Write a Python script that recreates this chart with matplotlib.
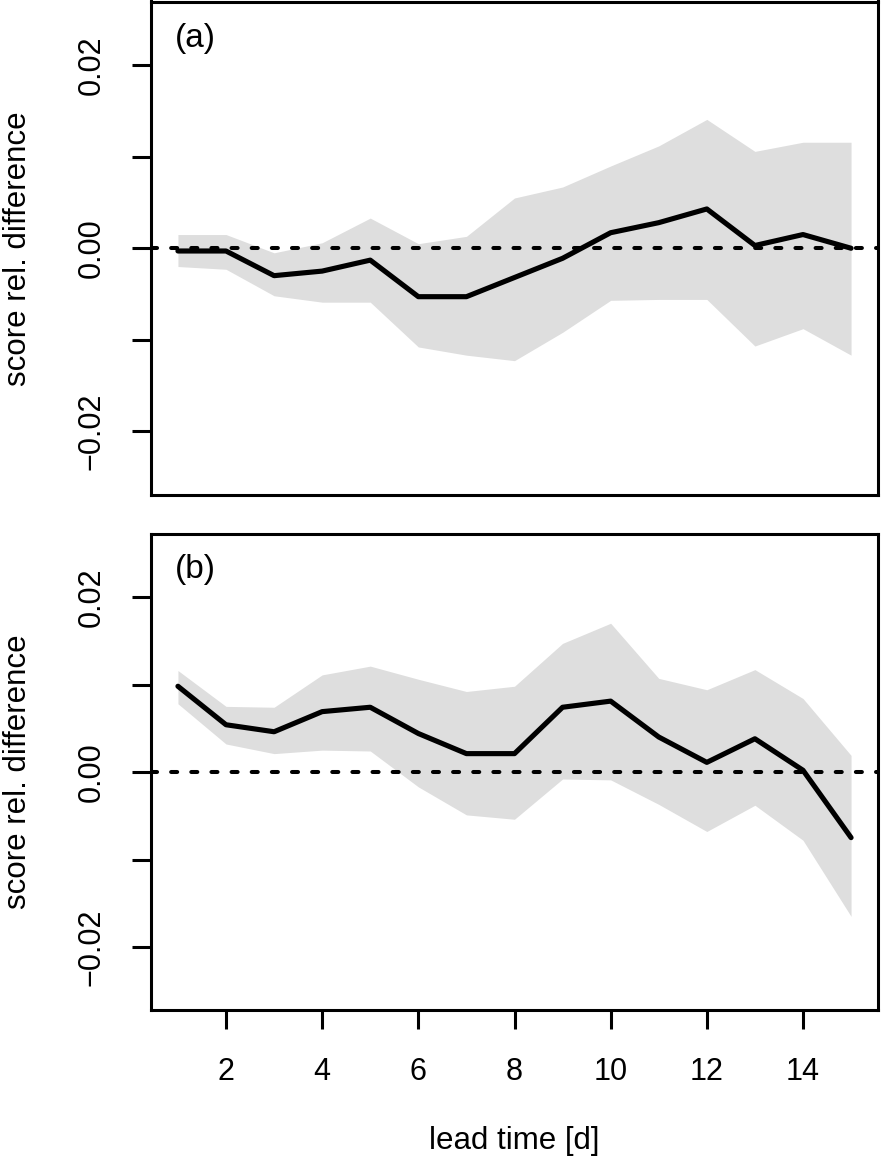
import numpy as np
import matplotlib
matplotlib.use("Agg")
import matplotlib.pyplot as plt

plt.rcParams['font.family'] = ['Liberation Sans', 'DejaVu Sans']

# lead time [d]
lead = np.arange(1, 16)

# panel (a)
mid_a = [-0.0003, -0.0003, -0.0030, -0.0025, -0.0013, -0.0053, -0.0053, -0.0032,
         -0.0011, 0.0017, 0.0028, 0.0043, 0.0003, 0.0015, 0.0000]
up_a = [0.0015, 0.0015, -0.0005, 0.0006, 0.0033, 0.0005, 0.0013, 0.0055,
        0.0067, 0.0090, 0.0112, 0.0141, 0.0106, 0.0116, 0.0116]
lo_a = [-0.0020, -0.0023, -0.0052, -0.0059, -0.0059, -0.0108, -0.0117, -0.0123,
        -0.0092, -0.0057, -0.0056, -0.0056, -0.0107, -0.0088, -0.0117]

# panel (b)
mid_b = [0.0098, 0.0054, 0.0046, 0.0069, 0.0074, 0.0044, 0.0021, 0.0021,
         0.0074, 0.0081, 0.0040, 0.0011, 0.0038, 0.0002, -0.0075]
up_b = [0.0116, 0.0075, 0.0074, 0.0111, 0.0121, 0.0106, 0.0092, 0.0098,
        0.0147, 0.0170, 0.0107, 0.0094, 0.0117, 0.0084, 0.0019]
lo_b = [0.0078, 0.0032, 0.0021, 0.0025, 0.0024, -0.0017, -0.0049, -0.0054,
        -0.0008, -0.0009, -0.0037, -0.0068, -0.0038, -0.0078, -0.0165]

yticks = [-0.02, -0.01, 0.0, 0.01, 0.02]
ylabels = ['\u22120.02', '', '0.00', '', '0.02']
xticks = [2, 4, 6, 8, 10, 12, 14]

W, H = 882, 1163
fig = plt.figure(figsize=(W / 100, H / 100), dpi=100)
ax_a = fig.add_axes([151 / W, 1 - 495 / H, 727 / W, 493.5 / H])
ax_b = fig.add_axes([151 / W, 1 - 1010 / H, 727 / W, 476 / H])

panels = [(ax_a, mid_a, up_a, lo_a, '(a)', 0.027),
          (ax_b, mid_b, up_b, lo_b, '(b)', 0.0272)]

for ax, mid, up, lo, tag, lim in panels:
    ax.fill_between(lead, lo, up, color='#dedede', linewidth=0)
    ax.axhline(0, color='black', lw=2.9, dashes=(1.5, 3.5), dash_capstyle='round')
    ax.plot(lead, mid, color='black', lw=3.7, solid_joinstyle='round',
            solid_capstyle='round')
    ax.set_xlim(0.44, 15.56)
    ax.set_ylim(-lim, lim)
    ax.set_yticks(yticks)
    ax.set_yticklabels(ylabels, rotation=90, va='center')
    ax.set_ylabel('score rel. difference', fontsize=22.5)
    ax.yaxis.set_label_coords(-0.1623, 0.5)
    ax.tick_params(axis='both', direction='out', length=13.7, width=2.2,
                   labelsize=22, pad=18)
    for sp in ax.spines.values():
        sp.set_linewidth(2.2)
    ax.text(0.033, 0.926, tag, transform=ax.transAxes, fontsize=24,
            ha='left', va='center')

ax_a.tick_params(axis='x', bottom=False, labelbottom=False)
ax_b.set_xticks(xticks)
ax_b.tick_params(axis='x', pad=20)
ax_b.set_xlabel('lead time [d]', fontsize=22.5, labelpad=28)

fig.savefig('out.png', dpi=100)
